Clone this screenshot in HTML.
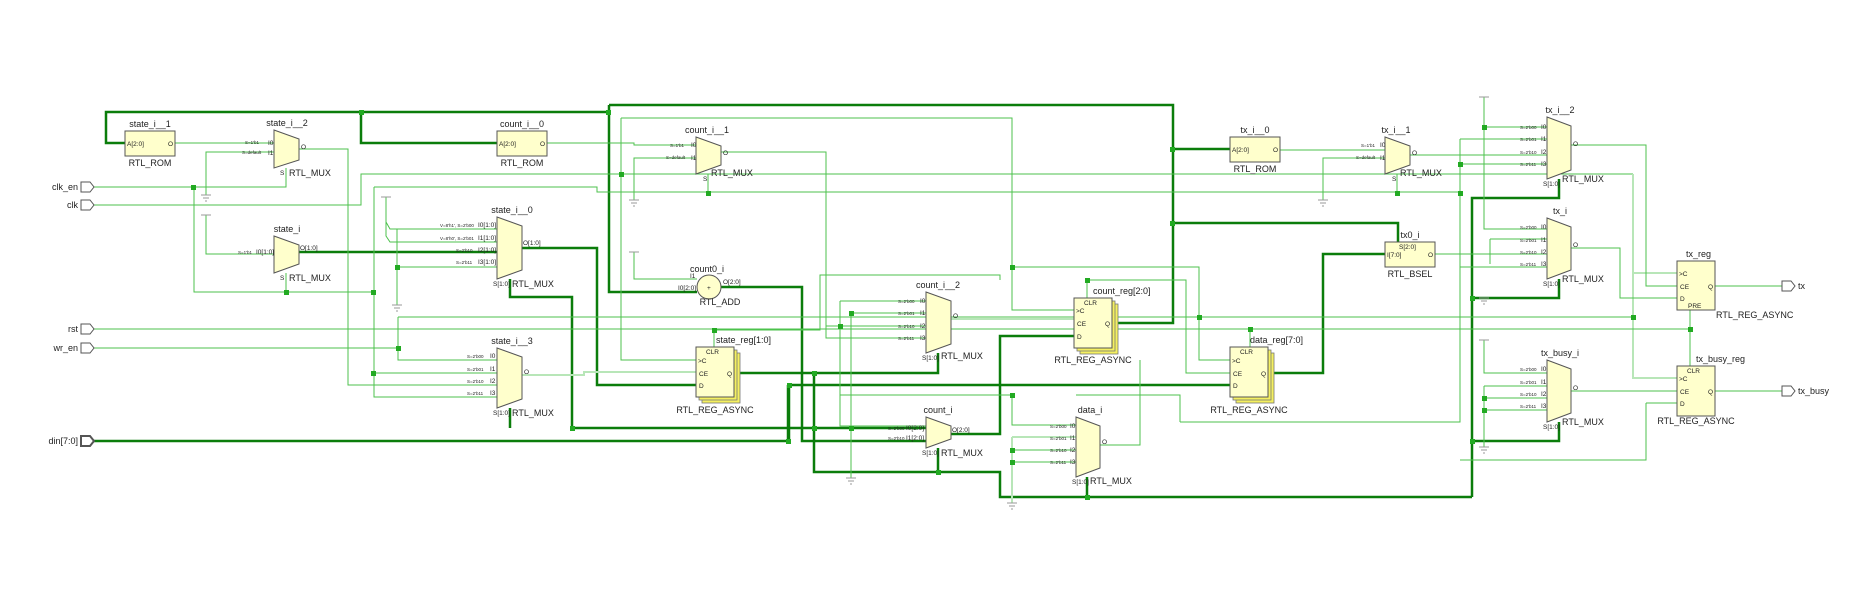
<!DOCTYPE html>
<html><head><meta charset="utf-8"><style>
html,body{margin:0;padding:0;background:#fff}
svg{display:block}
text{font-family:"Liberation Sans",sans-serif;fill:#222}
.t{stroke:#0b7d0b;stroke-width:2.5;fill:none}
.n{stroke:#4cc24c;stroke-width:1;fill:none}
.p{stroke:#b8e6b8;stroke-width:2;fill:none}
.g{stroke:#999;stroke-width:1;fill:none}
.box{fill:#ffffcc;stroke:#555;stroke-width:1}
.sh{fill:#f5f060;stroke:#777;stroke-width:0.8}
.nm{font-size:9px}
.lb{font-size:9px}
.pin{font-size:6.5px}
.sm{font-size:4.5px}
.j{fill:#22aa22}
</style></head><body>
<svg width="1873" height="607" viewBox="0 0 1873 607" xmlns="http://www.w3.org/2000/svg">
<!-- thick buses -->
<path class="t" d="M125,143 H106 V112 H609"/>
<path class="t" d="M361,112 V143 H497"/>
<path class="t" d="M609,105 H1173 V323 H1112"/>
<path class="t" d="M609,105 V292 H697"/>
<path class="t" d="M1173,149 H1230"/>
<path class="t" d="M1173,223 H1398 V242"/>
<path class="t" d="M721,287 H802 V441 H926"/>
<path class="t" d="M299,252 H497"/>
<path class="t" d="M522,248 H597 V385 H697"/>
<path class="t" d="M510,279 V297 H572 V428 H926"/>
<path class="t" d="M510,408 V428"/>
<path class="t" d="M734,373 H938 V353"/>
<path class="t" d="M814,373 V472 H1000 V497 H1472"/>
<path class="t" d="M938,448 V472"/>
<path class="t" d="M1087,477 V497"/>
<path class="t" d="M951,434 H1000 V336 H1074"/>
<path class="t" d="M94,441 H789 V385 H1230"/>
<path class="t" d="M1268,373 H1323 V254 H1385"/>
<path class="t" d="M1559,179 V198 H1472 V497"/>
<path class="t" d="M1559,279 V298 H1472"/>
<path class="t" d="M1559,422 V441 H1472"/>
<path class="t" d="M788,385 V441"/>
<!-- thin wires -->
<path class="n" d="M94,187 H286 V168"/>
<path class="n" d="M194,187 V292 H374"/>
<path class="n" d="M286,292 V273"/>
<path class="n" d="M374,187 H597 V192 H1460 V422 H1180"/>
<path class="n" d="M374,187 V397 H497"/>
<path class="n" d="M374,373 H497"/>
<path class="n" d="M94,205 H361 V174 H1633"/>
<path class="p" d="M1633,174 V378 H1677 M1633,273 H1677"/>
<path class="n" d="M175,143 H274"/>
<path class="n" d="M274,152 H206 V195"/>
<path class="n" d="M274,254 H206 V215"/>
<path class="n" d="M299,149 H348 V385 H497"/>
<path class="n" d="M386,197 V222 L390,229 H497"/>
<path class="n" d="M386,222 V236 L390,242 H497"/>
<path class="n" d="M397,229 V305"/>
<path class="n" d="M397,267 H497"/>
<path class="n" d="M94,329 H1690"/>
<path class="n" d="M94,348 H398"/>
<path class="n" d="M398,317 V360 H497"/>
<path class="n" d="M398,317 H1633"/>
<path class="p" d="M522,375 H584 V372 H697"/>
<path class="n" d="M547,143 H634 V145 H696"/>
<path class="n" d="M696,158 H634 V200"/>
<path class="n" d="M621,118 H1012 V310 H1074"/>
<path class="n" d="M621,118 V360 H697"/>
<path class="n" d="M708,174 V193"/>
<path class="n" d="M721,152 H826 V338 H926"/>
<path class="n" d="M634,252 V279 H697"/>
<path class="n" d="M1012,267 H1199 V360 H1230"/>
<path class="n" d="M1087,298 V280 H1186 V373 H1230"/>
<path class="n" d="M714,347 V330 H820 V275 H1000 V280"/>
<path class="n" d="M840,301 H926"/>
<path class="n" d="M840,301 V426 H926"/>
<path class="n" d="M851,313 H926 V313"/>
<path class="n" d="M851,313 V478"/>
<path class="p" d="M951,319 H1074"/>
<path class="n" d="M826,326 H926"/>
<path class="n" d="M840,395 H1012 V425 H1076"/>
<path class="p" d="M1012,437 H1076 M1012,437 V503"/>
<path class="n" d="M1012,450 H1076 M1012,462 H1076"/>
<path class="n" d="M1100,445 H1140 V360"/>
<path class="n" d="M1076,395 H1180 V422"/>
<path class="n" d="M1250,347 V329"/>
<path class="n" d="M1280,150 H1385"/>
<path class="n" d="M1385,158 H1323 V200"/>
<path class="n" d="M1410,155 H1547 V152"/>
<path class="n" d="M1397,174 V193"/>
<path class="n" d="M1484,97 V229 H1547"/>
<path class="n" d="M1484,127 H1547"/>
<path class="n" d="M1460,139 H1547 M1460,139 V267 H1547"/>
<path class="n" d="M1460,164 H1547"/>
<path class="n" d="M1490,239 H1547 M1490,239 V264"/>
<path class="n" d="M1435,254 H1547"/>
<path class="n" d="M1571,145 H1646 V286 H1677"/>
<path class="n" d="M1571,248 H1620 V298 H1677"/>
<path class="n" d="M1690,329 V310 M1690,329 V366"/>
<path class="n" d="M1714,286 H1782"/>
<path class="n" d="M1714,391 H1782"/>
<path class="n" d="M1571,391 H1677"/>
<path class="n" d="M1646,403 H1677 M1646,403 V460 H1460"/>
<path class="n" d="M1484,340 V373 H1547"/>
<path class="n" d="M1484,386 H1547 M1484,386 V447"/>
<path class="n" d="M1484,398 H1547 M1484,410 H1547"/>
<!-- ground/vcc -->
<g class="g">
<path d="M201,195 h10 M203,198 h6 M205,201 h2"/>
<path d="M201,215 h10"/>
<path d="M381,197 h10"/>
<path d="M392,305 h10 M394,308 h6 M396,311 h2"/>
<path d="M629,200 h10 M631,203 h6 M633,206 h2"/>
<path d="M629,252 h10"/>
<path d="M846,478 h10 M848,481 h6 M850,484 h2"/>
<path d="M1007,503 h10 M1009,506 h6 M1011,509 h2"/>
<path d="M1318,200 h10 M1320,203 h6 M1322,206 h2"/>
<path d="M1479,97 h10"/>
<path d="M1479,298 h10 M1481,301 h6 M1483,304 h2"/>
<path d="M1479,340 h10"/>
<path d="M1479,447 h10 M1481,450 h6 M1483,453 h2"/>
</g>
<!-- junctions -->
<g class="j">
<rect x="359" y="110" width="5" height="5"/><rect x="606" y="110" width="5" height="5"/>
<rect x="1170" y="147" width="5" height="5"/><rect x="1170" y="221" width="5" height="5"/>
<rect x="191" y="185" width="5" height="5"/><rect x="284" y="290" width="5" height="5"/>
<rect x="371" y="290" width="5" height="5"/><rect x="371" y="371" width="5" height="5"/>
<rect x="395" y="265" width="5" height="5"/><rect x="396" y="346" width="5" height="5"/>
<rect x="619" y="172" width="5" height="5"/><rect x="706" y="191" width="5" height="5"/>
<rect x="1010" y="265" width="5" height="5"/><rect x="1085" y="278" width="5" height="5"/>
<rect x="712" y="328" width="5" height="5"/><rect x="838" y="324" width="5" height="5"/>
<rect x="812" y="371" width="5" height="5"/><rect x="812" y="426" width="5" height="5"/>
<rect x="570" y="426" width="5" height="5"/><rect x="936" y="470" width="5" height="5"/>
<rect x="849" y="311" width="5" height="5"/><rect x="849" y="426" width="5" height="5"/>
<rect x="1010" y="393" width="5" height="5"/><rect x="1085" y="495" width="5" height="5"/>
<rect x="1010" y="448" width="5" height="5"/><rect x="1010" y="460" width="5" height="5"/>
<rect x="1197" y="315" width="5" height="5"/><rect x="1248" y="327" width="5" height="5"/>
<rect x="1395" y="191" width="5" height="5"/><rect x="1482" y="125" width="5" height="5"/>
<rect x="1458" y="162" width="5" height="5"/><rect x="1458" y="191" width="5" height="5"/>
<rect x="1470" y="296" width="5" height="5"/><rect x="1470" y="439" width="5" height="5"/>
<rect x="1631" y="315" width="5" height="5"/><rect x="1688" y="327" width="5" height="5"/>
<rect x="1482" y="396" width="5" height="5"/><rect x="1482" y="408" width="5" height="5"/>
<rect x="787" y="383" width="5" height="5"/><rect x="786" y="439" width="5" height="5"/>
</g>
<!-- ports -->
<g fill="#fff" stroke="#555" stroke-width="1">
<path d="M81,182 h9 l4,5 l-4,5 h-9z"/><path d="M81,200 h9 l4,5 l-4,5 h-9z"/>
<path d="M81,324 h9 l4,5 l-4,5 h-9z"/><path d="M81,343 h9 l4,5 l-4,5 h-9z"/>
<path d="M81,436 h9 l4,5 l-4,5 h-9z" stroke-width="2"/>
<path d="M1782,281 h9 l4,5 l-4,5 h-9z"/><path d="M1782,386 h9 l4,5 l-4,5 h-9z"/>
</g>
<g class="lb" text-anchor="end">
<text x="78" y="190">clk_en</text><text x="78" y="208">clk</text>
<text x="78" y="332">rst</text><text x="78" y="351">wr_en</text><text x="78" y="444">din[7:0]</text>
</g>
<text class="lb" x="1798" y="289">tx</text><text class="lb" x="1798" y="394">tx_busy</text>
<!-- ROMs / BSEL -->
<g>
<rect class="box" x="125" y="131" width="50" height="25"/>
<text class="nm" x="150" y="127" text-anchor="middle">state_i__1</text>
<text class="pin" x="127" y="146">A[2:0]</text><text class="pin" x="168" y="146">O</text>
<text class="lb" x="150" y="166" text-anchor="middle">RTL_ROM</text>
<rect class="box" x="497" y="131" width="50" height="25"/>
<text class="nm" x="522" y="127" text-anchor="middle">count_i__0</text>
<text class="pin" x="499" y="146">A[2:0]</text><text class="pin" x="540" y="146">O</text>
<text class="lb" x="522" y="166" text-anchor="middle">RTL_ROM</text>
<rect class="box" x="1230" y="137" width="50" height="25"/>
<text class="nm" x="1255" y="133" text-anchor="middle">tx_i__0</text>
<text class="pin" x="1232" y="152">A[2:0]</text><text class="pin" x="1273" y="152">O</text>
<text class="lb" x="1255" y="172" text-anchor="middle">RTL_ROM</text>
<rect class="box" x="1385" y="242" width="50" height="25"/>
<text class="nm" x="1410" y="238" text-anchor="middle">tx0_i</text>
<text class="pin" x="1399" y="249">S[2:0]</text>
<text class="pin" x="1387" y="257">I[7:0]</text><text class="pin" x="1428" y="257">O</text>
<text class="lb" x="1410" y="277" text-anchor="middle">RTL_BSEL</text>
</g>
<!-- adder -->
<ellipse class="box" cx="709" cy="287" rx="12" ry="12"/>
<text class="pin" x="707" y="290">+</text>
<text class="nm" x="707" y="272" text-anchor="middle">count0_i</text>
<text class="pin" x="690" y="278">I1</text><text class="pin" x="678" y="290">I0[2:0]</text>
<text class="pin" x="723" y="284">O[2:0]</text>
<text class="lb" x="720" y="305" text-anchor="middle">RTL_ADD</text>
<!-- MUXes -->
<g>
<polygon class="box" points="274,130 299,139 299,160 274,168"/>
<text class="nm" x="287" y="126" text-anchor="middle">state_i__2</text>
<text class="sm" x="245" y="144">S=1'b1</text><text class="pin" x="268" y="145">I0</text>
<text class="sm" x="242" y="154">S=default</text><text class="pin" x="268" y="155">I1</text>
<text class="pin" x="301" y="149">O</text><text class="pin" x="280" y="175">S</text>
<text class="lb" x="289" y="176">RTL_MUX</text>

<polygon class="box" points="274,236 299,245 299,264 274,273"/>
<text class="nm" x="287" y="232" text-anchor="middle">state_i</text>
<text class="sm" x="238" y="254">S=1'b1</text><text class="pin" x="256" y="254">I0[1:0]</text>
<text class="pin" x="300" y="250">O[1:0]</text><text class="pin" x="280" y="280">S</text>
<text class="lb" x="289" y="281">RTL_MUX</text>

<polygon class="box" points="497,217 522,226 522,270 497,279"/>
<text class="nm" x="512" y="213" text-anchor="middle">state_i__0</text>
<text class="sm" x="440" y="227">V=8'h1', S=2'b00</text><text class="pin" x="478" y="227">I0[1:0]</text>
<text class="sm" x="440" y="240">V=8'h0', S=2'b01</text><text class="pin" x="478" y="240">I1[1:0]</text>
<text class="sm" x="456" y="252">S=2'b10</text><text class="pin" x="478" y="252">I2[1:0]</text>
<text class="sm" x="456" y="264">S=2'b11</text><text class="pin" x="478" y="264">I3[1:0]</text>
<text class="pin" x="523" y="245">O[1:0]</text><text class="pin" x="493" y="286">S[1:0]</text>
<text class="lb" x="512" y="287">RTL_MUX</text>

<polygon class="box" points="497,348 522,357 522,399 497,408"/>
<text class="nm" x="512" y="344" text-anchor="middle">state_i__3</text>
<text class="sm" x="467" y="358">S=2'b00</text><text class="pin" x="490" y="358">I0</text>
<text class="sm" x="467" y="371">S=2'b01</text><text class="pin" x="490" y="371">I1</text>
<text class="sm" x="467" y="383">S=2'b10</text><text class="pin" x="490" y="383">I2</text>
<text class="sm" x="467" y="395">S=2'b11</text><text class="pin" x="490" y="395">I3</text>
<text class="pin" x="524" y="374">O</text><text class="pin" x="493" y="415">S[1:0]</text>
<text class="lb" x="512" y="416">RTL_MUX</text>

<polygon class="box" points="696,137 721,146 721,165 696,174"/>
<text class="nm" x="707" y="133" text-anchor="middle">count_i__1</text>
<text class="sm" x="670" y="147">S=1'b1</text><text class="pin" x="691" y="147">I0</text>
<text class="sm" x="666" y="159">S=default</text><text class="pin" x="691" y="160">I1</text>
<text class="pin" x="723" y="155">O</text><text class="pin" x="703" y="181">S</text>
<text class="lb" x="711" y="176">RTL_MUX</text>

<polygon class="box" points="926,292 951,301 951,344 926,353"/>
<text class="nm" x="938" y="288" text-anchor="middle">count_i__2</text>
<text class="sm" x="898" y="303">S=2'b00</text><text class="pin" x="920" y="303">I0</text>
<text class="sm" x="898" y="315">S=2'b01</text><text class="pin" x="920" y="315">I1</text>
<text class="sm" x="898" y="328">S=2'b10</text><text class="pin" x="920" y="328">I2</text>
<text class="sm" x="898" y="340">S=2'b11</text><text class="pin" x="920" y="340">I3</text>
<text class="pin" x="953" y="318">O</text><text class="pin" x="922" y="360">S[1:0]</text>
<text class="lb" x="941" y="359">RTL_MUX</text>

<polygon class="box" points="926,417 951,426 951,439 926,448"/>
<text class="nm" x="938" y="413" text-anchor="middle">count_i</text>
<text class="sm" x="888" y="430">S=2'b00</text><text class="pin" x="906" y="430">I0[2:0]</text>
<text class="sm" x="888" y="440">S=2'b10</text><text class="pin" x="906" y="440">I1[2:0]</text>
<text class="pin" x="952" y="432">O[2:0]</text><text class="pin" x="922" y="455">S[1:0]</text>
<text class="lb" x="941" y="456">RTL_MUX</text>

<polygon class="box" points="1076,417 1100,426 1100,468 1076,477"/>
<text class="nm" x="1090" y="413" text-anchor="middle">data_i</text>
<text class="sm" x="1050" y="428">S=2'b00</text><text class="pin" x="1070" y="428">I0</text>
<text class="sm" x="1050" y="440">S=2'b01</text><text class="pin" x="1070" y="440">I1</text>
<text class="sm" x="1050" y="452">S=2'b10</text><text class="pin" x="1070" y="452">I2</text>
<text class="sm" x="1050" y="464">S=2'b11</text><text class="pin" x="1070" y="464">I3</text>
<text class="pin" x="1102" y="444">O</text><text class="pin" x="1072" y="484">S[1:0]</text>
<text class="lb" x="1090" y="484">RTL_MUX</text>

<polygon class="box" points="1385,137 1410,146 1410,165 1385,174"/>
<text class="nm" x="1396" y="133" text-anchor="middle">tx_i__1</text>
<text class="sm" x="1361" y="147">S=1'b1</text><text class="pin" x="1380" y="147">I0</text>
<text class="sm" x="1356" y="159">S=default</text><text class="pin" x="1380" y="160">I1</text>
<text class="pin" x="1412" y="155">O</text><text class="pin" x="1392" y="181">S</text>
<text class="lb" x="1400" y="176">RTL_MUX</text>

<polygon class="box" points="1547,117 1571,126 1571,170 1547,179"/>
<text class="nm" x="1560" y="113" text-anchor="middle">tx_i__2</text>
<text class="sm" x="1520" y="129">S=2'b00</text><text class="pin" x="1541" y="129">I0</text>
<text class="sm" x="1520" y="141">S=2'b01</text><text class="pin" x="1541" y="141">I1</text>
<text class="sm" x="1520" y="154">S=2'b10</text><text class="pin" x="1541" y="154">I2</text>
<text class="sm" x="1520" y="166">S=2'b11</text><text class="pin" x="1541" y="166">I3</text>
<text class="pin" x="1573" y="146">O</text><text class="pin" x="1543" y="186">S[1:0]</text>
<text class="lb" x="1562" y="182">RTL_MUX</text>

<polygon class="box" points="1547,218 1571,227 1571,270 1547,279"/>
<text class="nm" x="1560" y="214" text-anchor="middle">tx_i</text>
<text class="sm" x="1520" y="229">S=2'b00</text><text class="pin" x="1541" y="229">I0</text>
<text class="sm" x="1520" y="242">S=2'b01</text><text class="pin" x="1541" y="242">I1</text>
<text class="sm" x="1520" y="254">S=2'b10</text><text class="pin" x="1541" y="254">I2</text>
<text class="sm" x="1520" y="266">S=2'b11</text><text class="pin" x="1541" y="266">I3</text>
<text class="pin" x="1573" y="247">O</text><text class="pin" x="1543" y="286">S[1:0]</text>
<text class="lb" x="1562" y="282">RTL_MUX</text>

<polygon class="box" points="1547,360 1571,369 1571,413 1547,422"/>
<text class="nm" x="1560" y="356" text-anchor="middle">tx_busy_i</text>
<text class="sm" x="1520" y="371">S=2'b00</text><text class="pin" x="1541" y="371">I0</text>
<text class="sm" x="1520" y="384">S=2'b01</text><text class="pin" x="1541" y="384">I1</text>
<text class="sm" x="1520" y="396">S=2'b10</text><text class="pin" x="1541" y="396">I2</text>
<text class="sm" x="1520" y="408">S=2'b11</text><text class="pin" x="1541" y="408">I3</text>
<text class="pin" x="1573" y="390">O</text><text class="pin" x="1543" y="429">S[1:0]</text>
<text class="lb" x="1562" y="425">RTL_MUX</text>
</g>
<!-- registers -->
<g>
<rect class="sh" x="702" y="353" width="38" height="50"/><rect class="sh" x="699" y="350" width="38" height="50"/>
<rect class="box" x="696" y="347" width="38" height="50"/>
<text class="nm" x="716" y="343">state_reg[1:0]</text>
<text class="pin" x="706" y="354">CLR</text><text class="pin" x="698" y="363">&gt;C</text>
<text class="pin" x="699" y="376">CE</text><text class="pin" x="699" y="388">D</text><text class="pin" x="727" y="376">Q</text>
<text class="lb" x="715" y="413" text-anchor="middle">RTL_REG_ASYNC</text>

<rect class="sh" x="1080" y="304" width="38" height="50"/><rect class="sh" x="1077" y="301" width="38" height="50"/>
<rect class="box" x="1074" y="298" width="38" height="50"/>
<text class="nm" x="1093" y="294">count_reg[2:0]</text>
<text class="pin" x="1084" y="305">CLR</text><text class="pin" x="1076" y="313">&gt;C</text>
<text class="pin" x="1077" y="326">CE</text><text class="pin" x="1077" y="339">D</text><text class="pin" x="1105" y="326">Q</text>
<text class="lb" x="1093" y="363" text-anchor="middle">RTL_REG_ASYNC</text>

<rect class="sh" x="1236" y="353" width="38" height="50"/><rect class="sh" x="1233" y="350" width="38" height="50"/>
<rect class="box" x="1230" y="347" width="38" height="50"/>
<text class="nm" x="1250" y="343">data_reg[7:0]</text>
<text class="pin" x="1240" y="354">CLR</text><text class="pin" x="1232" y="363">&gt;C</text>
<text class="pin" x="1233" y="376">CE</text><text class="pin" x="1233" y="388">D</text><text class="pin" x="1261" y="376">Q</text>
<text class="lb" x="1249" y="413" text-anchor="middle">RTL_REG_ASYNC</text>

<rect class="box" x="1677" y="261" width="38" height="49"/>
<text class="nm" x="1686" y="257">tx_reg</text>
<text class="pin" x="1679" y="276">&gt;C</text><text class="pin" x="1680" y="289">CE</text>
<text class="pin" x="1680" y="301">D</text><text class="pin" x="1708" y="289">Q</text>
<text class="pin" x="1688" y="308">PRE</text>
<text class="lb" x="1716" y="318">RTL_REG_ASYNC</text>

<rect class="box" x="1677" y="366" width="38" height="50"/>
<text class="nm" x="1696" y="362">tx_busy_reg</text>
<text class="pin" x="1687" y="373">CLR</text><text class="pin" x="1679" y="381">&gt;C</text>
<text class="pin" x="1680" y="394">CE</text><text class="pin" x="1680" y="406">D</text><text class="pin" x="1708" y="394">Q</text>
<text class="lb" x="1696" y="424" text-anchor="middle">RTL_REG_ASYNC</text>
</g>
</svg>
</body></html>
